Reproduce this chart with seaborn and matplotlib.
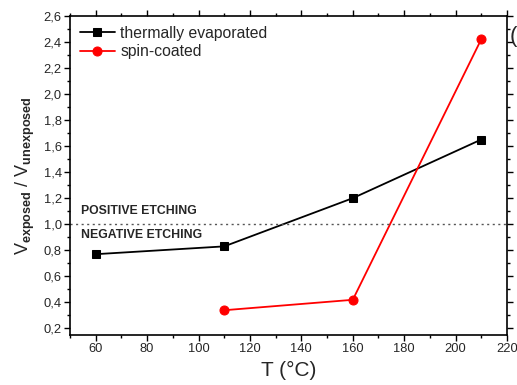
import matplotlib
matplotlib.use("Agg")
import matplotlib.pyplot as plt
import seaborn as sns
import pandas as pd
from matplotlib.ticker import MultipleLocator, FuncFormatter

temp_thermal = [60, 110, 160, 210]
ratio_thermal = [0.77, 0.83, 1.20, 1.65]
temp_spin = [110, 160, 210]
ratio_spin = [0.34, 0.42, 2.42]
label_thermal = "thermally evaporated"
label_spin = "spin-coated"

sns.set_style("ticks")
plt.rcParams['font.family'] = ['Liberation Sans', 'DejaVu Sans']
plt.rcParams['mathtext.fontset'] = 'custom'
plt.rcParams['mathtext.rm'] = 'Liberation Sans'
plt.rcParams['mathtext.bf'] = 'Liberation Sans:bold'
plt.rcParams['mathtext.it'] = 'Liberation Sans:italic'

fig = plt.figure(figsize=(5.17, 3.85), dpi=100)
ax = fig.add_axes([0.1354, 0.1299, 0.8453, 0.8293])

df1 = pd.DataFrame({"T": temp_thermal, "R": ratio_thermal})
df2 = pd.DataFrame({"T": temp_spin, "R": ratio_spin})
sns.lineplot(data=df1, x="T", y="R", ax=ax, color="black", marker="s", markersize=5.5,
             markeredgecolor="black", linewidth=1.3, label=label_thermal)
sns.lineplot(data=df2, x="T", y="R", ax=ax, color="#ff0000", marker="o", markersize=6.5,
             markeredgecolor="#ff0000", linewidth=1.3, label=label_spin)

ax.axhline(1.0, color="#555555", linestyle=(0, (1.5, 2.5)), linewidth=1.0)
ax.text(54.3, 1.10, "POSITIVE ETCHING", fontsize=8.8, fontweight="bold", va="center", ha="left")
ax.text(54.3, 0.915, "NEGATIVE ETCHING", fontsize=8.8, fontweight="bold", va="center", ha="left")

ax.set_xlim(50, 220)
ax.set_ylim(0.15, 2.6)
ax.xaxis.set_major_locator(MultipleLocator(20))
ax.xaxis.set_minor_locator(MultipleLocator(10))
ax.yaxis.set_major_locator(MultipleLocator(0.2))
ax.yaxis.set_minor_locator(MultipleLocator(0.1))
ax.yaxis.set_major_formatter(FuncFormatter(lambda v, p: f"{v:.1f}".replace(".", ",")))

for s in ax.spines.values():
    s.set_linewidth(1.2)
    s.set_color("black")
ax.tick_params(which="both", direction="out", top=True, right=True, labeltop=False, labelright=False,
               width=1.0, color="black")
ax.tick_params(which="major", length=4, labelsize=9.3, pad=2)
ax.tick_params(which="minor", length=2.5)

ax.set_xlabel("T (°C)", fontsize=15, labelpad=4)
ax.set_ylabel(r"$\mathrm{V}_{\mathbf{exposed}}\mathrm{\ /\ V}_{\mathbf{unexposed}}$", fontsize=13, labelpad=5)

leg = ax.legend(loc="upper left", frameon=False, fontsize=11.3, handlelength=2.2,
                borderaxespad=0.35, borderpad=0.3, handletextpad=0.35, labelspacing=0.2)

fig.text(0.985, 0.905, "(", fontsize=16, ha="left", va="center")

fig.savefig("out.png", dpi=100)
